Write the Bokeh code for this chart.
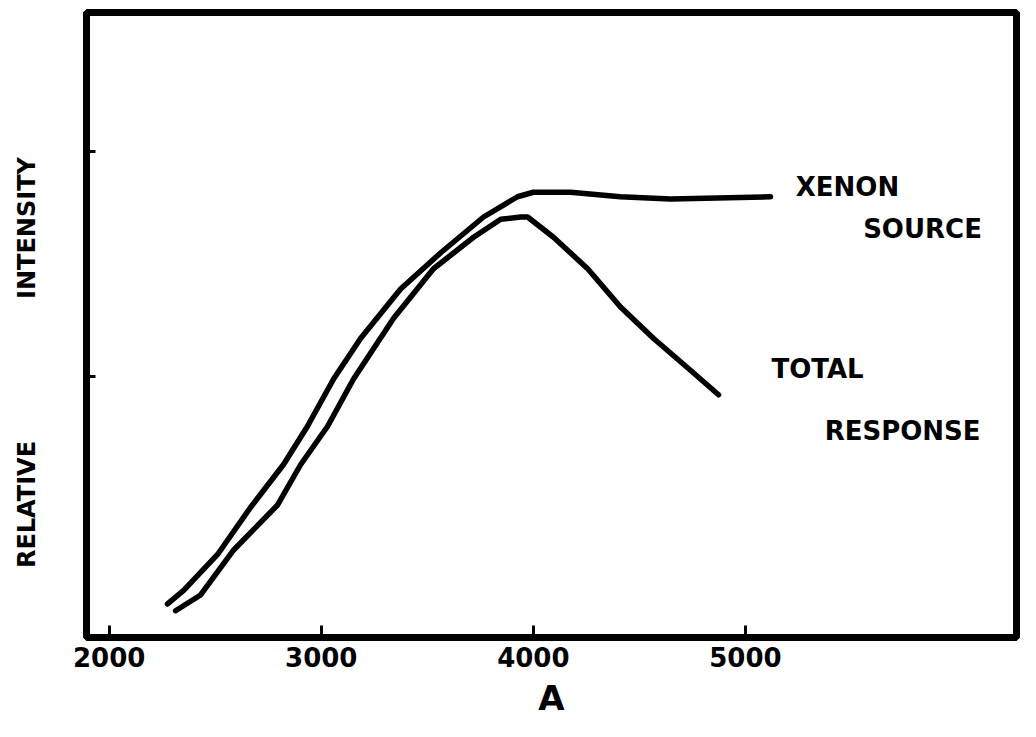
from bokeh.plotting import figure
from bokeh.models import Range1d, FixedTicker, CustomLabelingPolicy
from bokeh.core.properties import value
from bokeh.embed import file_html
from bokeh.resources import INLINE

# --- data ---
x_ticks = [2000, 3000, 4000, 5000]
y_ticks = [1, 2]

xenon_x = [2275, 2351, 2511, 2667, 2822, 2935, 3058, 3185, 3374, 3562, 3765, 3925, 4000, 4080, 4175, 4410, 4646, 5118]
xenon_y = [-0.01, 0.05, 0.21, 0.42, 0.61, 0.78, 0.99, 1.17, 1.39, 1.55, 1.71, 1.80, 1.82, 1.82, 1.82, 1.80, 1.79, 1.80]

total_x = [2313, 2431, 2587, 2794, 2903, 3030, 3152, 3341, 3529, 3718, 3846, 3940, 3973, 4095, 4256, 4411, 4567, 4727, 4873]
total_y = [-0.04, 0.03, 0.23, 0.43, 0.61, 0.78, 0.99, 1.26, 1.48, 1.62, 1.70, 1.71, 1.71, 1.62, 1.48, 1.31, 1.17, 1.04, 0.92]

note_text = ["XENON", "SOURCE", "TOTAL", "RESPONSE"]
note_x = [5481, 5835, 5340, 5741]
note_y = [1.845, 1.655, 1.035, 0.761]

y_title_words = ["RELATIVE", "INTENSITY"]

FONT = "DejaVu Sans"
W, H = 1020, 720

p = figure(width=W, height=H, output_backend="svg", toolbar_location=None,
           x_range=Range1d(1893, 6278), y_range=Range1d(-0.159, 2.619),
           min_border_left=86, min_border_top=12, min_border_right=4, min_border_bottom=80)
p.grid.visible = False
p.outline_line_color = "black"
p.outline_line_width = 7
p.background_fill_color = "white"
p.border_fill_color = "white"

# bottom axis: inward ticks, labels set to the right of their ticks
xa = p.xaxis[0]
xa.ticker = FixedTicker(ticks=x_ticks)
xa.major_tick_in = 12
xa.major_tick_out = 0
xa.major_tick_line_width = 3
xa.minor_tick_line_color = None
xa.axis_line_width = 7
xa.axis_line_color = "black"
xa.major_label_text_font = FONT
xa.major_label_text_font_size = "26px"
xa.major_label_text_font_style = "bold"
xa.major_label_text_color = "black"
xa.major_label_text_align = "left"
xa.major_label_standoff = 9
xa.axis_label = "A"
xa.axis_label_text_font = FONT
xa.axis_label_text_font_size = "34px"
xa.axis_label_text_font_style = "bold"
xa.axis_label_text_color = "black"
xa.axis_label_standoff = 8

# left axis: inward ticks, no numbers; the title's two words are spread along it
nb = "\u00a0"
ya = p.yaxis[0]
ya.ticker = FixedTicker(ticks=y_ticks)
ya.major_tick_in = 9
ya.major_tick_out = 0
ya.major_tick_line_width = 3
ya.minor_tick_line_color = None
ya.axis_line_width = 7
ya.axis_line_color = "black"
ya.major_label_standoff = 0
ya.major_label_policy = CustomLabelingPolicy(code="return new indices.constructor(indices.size)")
ya.axis_label = y_title_words[0] + nb * 17 + y_title_words[1] + nb * 9
ya.axis_label_text_font = FONT
ya.axis_label_text_font_size = "24px"
ya.axis_label_text_font_style = "bold"
ya.axis_label_text_color = "black"
ya.axis_label_standoff = 36

p.line(xenon_x, xenon_y, line_color="black", line_width=5.5, line_cap="round", line_join="round")
p.line(total_x, total_y, line_color="black", line_width=5.5, line_cap="round", line_join="round")

p.text(x=note_x, y=note_y, text=note_text, text_align="center", text_baseline="middle",
       text_font=value(FONT), text_font_size="26px", text_font_style="bold", text_color="black")

open("out.html", "w").write(file_html(p, INLINE))
